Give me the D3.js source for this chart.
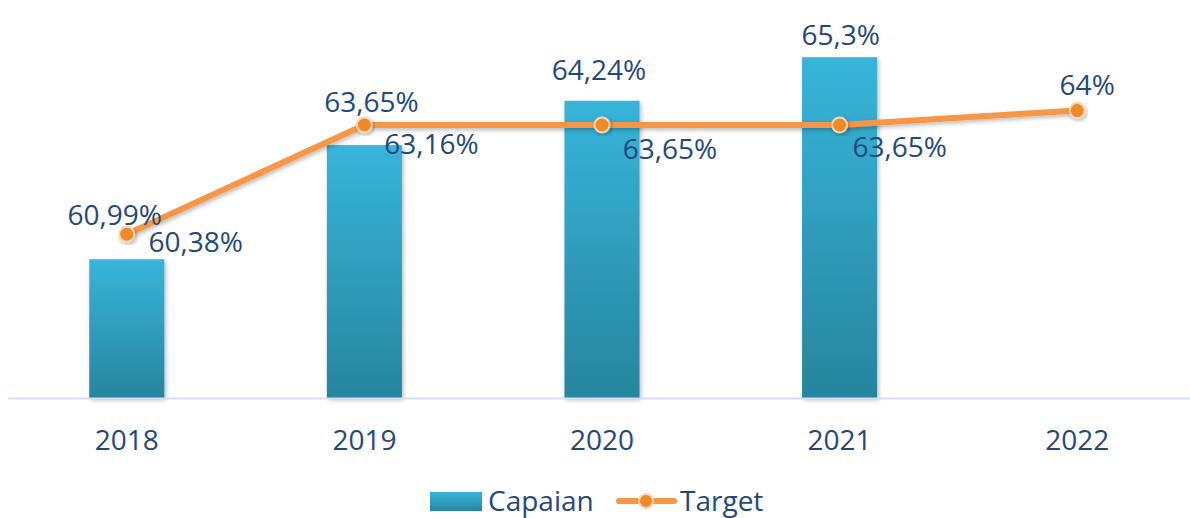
<!DOCTYPE html>
<html>
<head>
<meta charset="utf-8">
<script src="https://cdn.jsdelivr.net/npm/d3@7"></script>
<style>
  html, body { margin: 0; padding: 0; background: #ffffff; }
  svg { display: block; }
  text { font-family: "Open Sans", "Noto Sans", sans-serif; fill: #1f497d; }
</style>
</head>
<body>
<svg id="chart" width="1190" height="518"></svg>
<script>
// Data
const years = ["2018", "2019", "2020", "2021", "2022"];
const capaian = [60.38, 63.16, 64.24, 65.3, null];
const target = [60.99, 63.65, 63.65, 63.65, 64];
const seriesNames = ["Capaian", "Target"];

// Hand-placed data label offsets (px), relative to bar top / line point
const barLabelOffset = [[69, -7], [67, 9], [-3, -21], [1, -12]];
const lineLabelOffset = [[-12, -9], [7, -13], [68, 34], [60, 32], [10, -16]];

const fmt = v => String(v).replace(".", ",") + "%";

const svg = d3.select("#chart");
const W = 1190, H = 518;

const x = d3.scaleBand().domain(years).range([8, 1196]).padding(0);
const y = d3.scaleLinear().domain([57, 66]).range([398, 28.5]);
const barW = x.bandwidth() * 0.316;
const cx = d => x(d) + x.bandwidth() / 2;

const defs = svg.append("defs");
const grad = defs.append("linearGradient")
  .attr("id", "barGrad").attr("x1", 0).attr("y1", 0).attr("x2", 0).attr("y2", 1);
grad.append("stop").attr("offset", "0%").attr("stop-color", "#37b5da");
grad.append("stop").attr("offset", "100%").attr("stop-color", "#27859e");

const shadow = defs.append("filter").attr("id", "shadow")
  .attr("x", "-20%").attr("y", "-20%").attr("width", "140%").attr("height", "140%");
shadow.append("feDropShadow").attr("dx", 1.5).attr("dy", 2).attr("stdDeviation", 2)
  .attr("flood-color", "#000").attr("flood-opacity", 0.28);

// Bars
const barData = years.map((yr, i) => ({ yr, v: capaian[i], i })).filter(d => d.v != null);
svg.append("g").selectAll("rect").data(barData).join("rect")
  .attr("x", d => cx(d.yr) - barW / 2)
  .attr("y", d => y(d.v))
  .attr("width", barW)
  .attr("height", d => y(57) - y(d.v))
  .attr("fill", "url(#barGrad)")
  .attr("filter", "url(#shadow)");

// Category axis
svg.append("line")
  .attr("x1", 8).attr("x2", W).attr("y1", 398.5).attr("y2", 398.5)
  .attr("stroke", "#d3def0").attr("stroke-width", 2);

svg.append("g").selectAll("text").data(years).join("text")
  .attr("x", d => cx(d)).attr("y", 450)
  .attr("text-anchor", "middle").attr("font-size", 28)
  .text(d => d);

// Target line
const lineData = years.map((yr, i) => ({ yr, v: target[i], i }));
const line = d3.line().x(d => cx(d.yr)).y(d => y(d.v));
svg.append("path").datum(lineData)
  .attr("d", line)
  .attr("fill", "none")
  .attr("stroke", "#f79646")
  .attr("stroke-width", 6)
  .attr("stroke-linejoin", "round")
  .attr("filter", "url(#shadow)");

svg.append("g").selectAll("circle").data(lineData).join("circle")
  .attr("cx", d => cx(d.yr)).attr("cy", d => y(d.v))
  .attr("r", 7.5)
  .attr("fill", "#ef8a25")
  .attr("stroke", "#f6d6b4").attr("stroke-width", 2)
  .attr("filter", "url(#shadow)");

// Data labels
svg.append("g").selectAll("text").data(barData).join("text")
  .attr("x", d => cx(d.yr) + barLabelOffset[d.i][0])
  .attr("y", d => y(d.v) + barLabelOffset[d.i][1])
  .attr("text-anchor", "middle").attr("font-size", 28)
  .text(d => fmt(d.v));

svg.append("g").selectAll("text").data(lineData).join("text")
  .attr("x", d => cx(d.yr) + lineLabelOffset[d.i][0])
  .attr("y", d => y(d.v) + lineLabelOffset[d.i][1])
  .attr("text-anchor", "middle").attr("font-size", 28)
  .text(d => fmt(d.v));

// Legend
const lgY = 501;
const lg = svg.append("g");
lg.append("rect").attr("x", 430).attr("y", lgY - 9).attr("width", 52).attr("height", 19)
  .attr("fill", "url(#barGrad)");
lg.append("text").attr("x", 488).attr("y", lgY + 9.5).attr("font-size", 28).text(seriesNames[0]);
lg.append("line").attr("x1", 619).attr("x2", 674).attr("y1", lgY).attr("y2", lgY)
  .attr("stroke", "#f79646").attr("stroke-width", 6).attr("stroke-linecap", "round");
lg.append("circle").attr("cx", 646).attr("cy", lgY).attr("r", 7)
  .attr("fill", "#ef8a25").attr("stroke", "#f6d6b4").attr("stroke-width", 2);
lg.append("text").attr("x", 680).attr("y", lgY + 9.5).attr("font-size", 28).text(seriesNames[1]);
</script>
</body>
</html>
